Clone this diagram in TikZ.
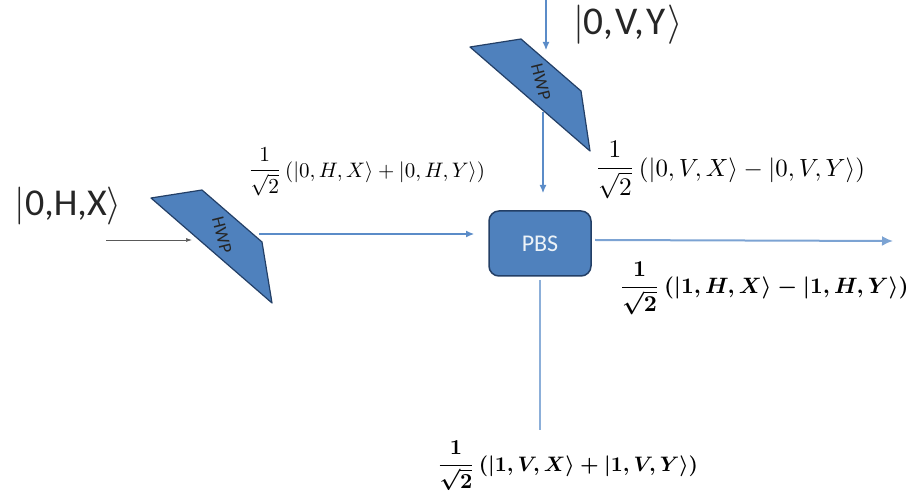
\documentclass[tikz,border=0pt]{standalone}
\usepackage{fontspec}
\usepackage{graphicx}
\setmainfont{Carlito}
\usetikzlibrary{arrows.meta}
\definecolor{fillblue}{HTML}{4F81BD}
\definecolor{edgeblue}{HTML}{233F66}
\definecolor{lineblue}{HTML}{5B8CC8}
\newcommand{\ketx}[2]{\resizebox{#1}{!}{$|$#2$\rangle$}}
\newcommand{\fr}{\vcenter{\hbox{\scalebox{1.02}{$\displaystyle\frac{1}{\sqrt{2}}$}}}}
\newcommand{\eqx}[2]{\resizebox{#1}{!}{$\fr\,(#2)$}}
\tikzset{
  plate/.style={fill=fillblue,draw=edgeblue,line width=1.2pt,line join=round},
  platetext/.style={inner sep=0,font=\fontsize{18}{20}\selectfont,text=black!85},
  beam/.style={draw=lineblue,line width=1.1pt,-{Latex[length=8pt,width=7pt]}},
  graybeam/.style={draw=black!65,line width=0.7pt,-{Latex[length=6pt,width=4pt]}},
  ketlabel/.style={inner sep=0,text=black!85},
  eq/.style={inner sep=0,text=black},
  eqbold/.style={inner sep=0,text=black,font=\boldmath}
}
\begin{document}
\begin{tikzpicture}[x=1pt,y=-1pt]
\useasboundingbox (0,0) rectangle (919,502);
% half-wave plate 1
\coordinate (a1) at (151,198);
\coordinate (a2) at (202,190);
\coordinate (a3) at (262,242);
\coordinate (a4) at (272,303);
\draw[plate] (a1) -- (a2) -- (a3) -- (a4) -- cycle;
\node[platetext,rotate=-76] (hwpa) at (222,235) {HWP};
% half-wave plate 2
\coordinate (b1) at (470,47);
\coordinate (b2) at (521,39);
\coordinate (b3) at (581,91);
\coordinate (b4) at (590,151);
\draw[plate] (b1) -- (b2) -- (b3) -- (b4) -- cycle;
\node[platetext,rotate=-76] (hwpb) at (541,82) {HWP};
% PBS
\node[draw=edgeblue,fill=fillblue,line width=1.5pt,rounded corners=10pt,minimum width=102pt,minimum height=65pt,inner sep=0,text=white!90!fillblue,font=\fontsize{24}{26}\selectfont] (pbs) at (540,243.5) {PBS};
% free ends and plate contact points
\coordinate (ina) at (106,240);
\coordinate (ina2) at (192,240);
\coordinate (outa) at (259,234);
\coordinate (pbsin) at (474,234);
\coordinate (inb) at (546,0);
\coordinate (inb2) at (546,50);
\coordinate (outb) at (543,112);
\coordinate (pbstop) at (543,193);
\coordinate (pbsr) at (595,240);
\coordinate (endr) at (893,241);
\coordinate (pbsb) at (540,280);
\coordinate (endb) at (540,430);
% connectors
\draw[graybeam] (ina) -- (ina2);
\draw[beam] (outa) -- (pbsin);
\draw[beam] (inb) -- (inb2);
\draw[beam] (outb) -- (pbstop);
\draw[draw=lineblue!80,line width=2pt,-{Latex[length=11pt,width=10pt]}] (pbsr) -- (endr);
\draw[draw=lineblue!70,line width=1.1pt] (pbsb) -- (endb);
% labels
\node[ketlabel] (k1) at (68,206) {\ketx{107pt}{0,H,X}};
\node[ketlabel] (k2) at (628,25) {\ketx{110pt}{0,\kern.5pt V,\kern.5pt Y\kern.5pt}};
\node[eq] (e1) at (366.5,172) {\eqx{237pt}{|0,H,X\rangle+|0,H,Y\rangle}};
\node[eq] (e2) at (730,170) {\eqx{270pt}{|0,V,X\rangle-|0,V,Y\rangle}};
\node[eqbold] (e3) at (764,288) {\eqx{289pt}{|1,H,X\rangle-|1,H,Y\rangle}};
\node[eqbold] (e4) at (567.5,466) {\eqx{261pt}{|1,V,X\rangle+|1,V,Y\rangle}};
\end{tikzpicture}
\end{document}
